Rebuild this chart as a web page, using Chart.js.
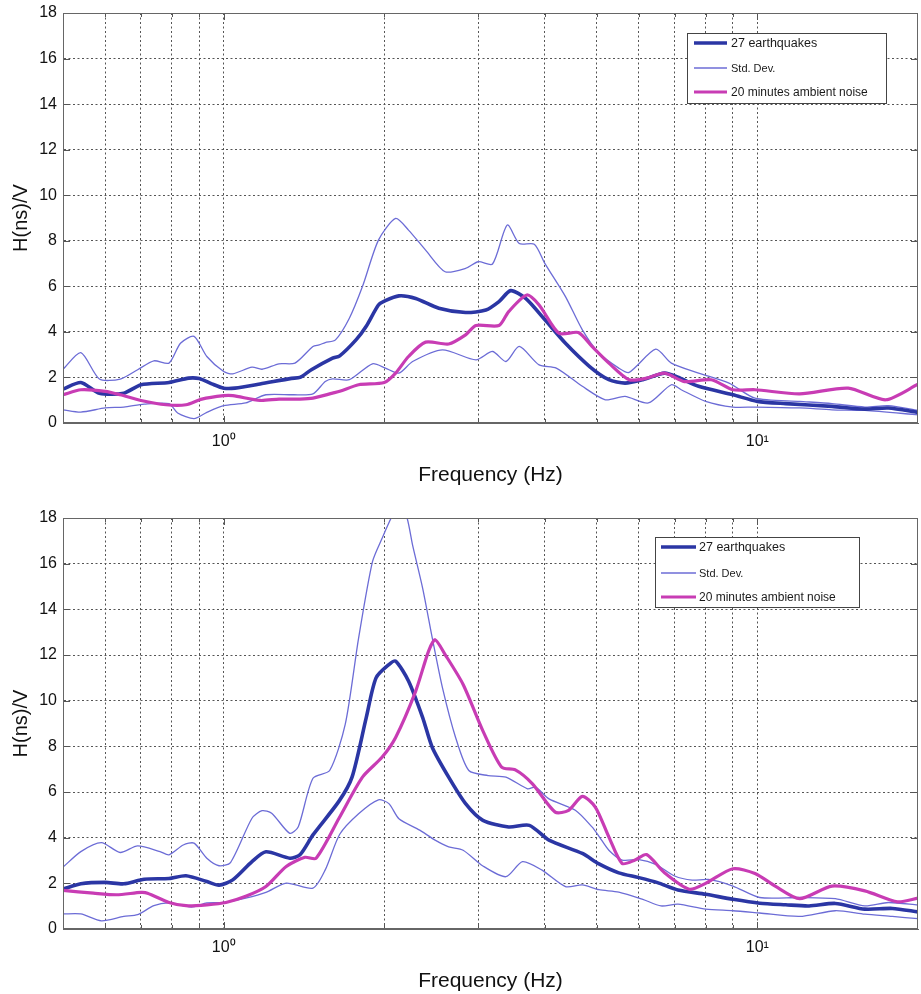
<!DOCTYPE html>
<html><head><meta charset="utf-8">
<script src="https://cdn.jsdelivr.net/npm/chart.js@4/dist/chart.umd.min.js"></script>
<style>
html,body{margin:0;padding:0;background:#fff;}
body{width:921px;height:994px;position:relative;overflow:hidden;}
canvas{position:absolute;left:0;display:block;}
</style></head><body>
<canvas id="c1" width="921" height="497" style="top:0"></canvas>
<canvas id="c2" width="921" height="497" style="top:497px"></canvas>
<script>
// ---------- axes ----------
const X_MIN = 0.5, X_MAX = 20;
const X_TICKS = [0.5,0.6,0.7,0.8,0.9,1,2,3,4,5,6,7,8,9,10,20];
const X_LABELS = {1:'10⁰', 10:'10¹'};
const Y_TICKS = [0,2,4,6,8,10,12,14,16,18];
const X_TITLE = 'Frequency (Hz)';
const Y_TITLE = 'H(ns)/V';
const LBL_EQ = '27 earthquakes';
const LBL_SD = 'Std. Dev.';
const LBL_AN = '20 minutes ambient noise';

// ---------- top panel data ----------
const TOP_EQ_F = [0.5,0.54,0.585,0.65,0.7,0.79,0.86,0.9,0.95,1.0,1.05,1.17,1.34,1.39,1.46,1.6,1.65,1.77,1.85,1.95,2.0,2.13,2.29,2.53,2.84,3.1,3.28,3.45,3.68,4.0,4.37,4.85,5.27,5.65,6.1,6.7,7.1,7.76,9.0,10,11.3,13.8,15.9,17.6,20];
const TOP_EQ_V = [1.49,1.78,1.31,1.31,1.68,1.78,1.97,1.95,1.72,1.53,1.53,1.71,1.96,2.0,2.34,2.85,2.95,3.65,4.25,5.18,5.35,5.58,5.47,5.04,4.85,4.96,5.33,5.81,5.47,4.53,3.50,2.48,1.90,1.75,1.90,2.19,2.01,1.61,1.24,0.95,0.85,0.73,0.61,0.66,0.47];

const TOP_AN_F = [0.5,0.54,0.6,0.64,0.7,0.78,0.85,0.91,1.0,1.04,1.17,1.27,1.39,1.47,1.6,1.65,1.79,2.0,2.1,2.22,2.39,2.64,2.84,2.97,3.28,3.42,3.7,3.9,4.25,4.62,4.9,5.27,5.75,6.2,6.7,7.3,8.2,9.0,9.9,12,14.8,17.4,20];
const TOP_AN_V = [1.24,1.46,1.39,1.24,0.99,0.80,0.80,1.05,1.20,1.20,0.99,1.05,1.05,1.09,1.31,1.39,1.68,1.78,2.19,2.92,3.55,3.47,3.87,4.28,4.28,4.89,5.62,5.18,3.94,3.97,3.36,2.63,1.90,1.97,2.19,1.82,1.90,1.46,1.46,1.28,1.53,1.02,1.70];

const TOP_SDU_F = [0.5,0.54,0.585,0.64,0.69,0.74,0.79,0.83,0.88,0.93,1.0,1.04,1.13,1.18,1.27,1.36,1.47,1.51,1.55,1.62,1.72,1.82,1.95,2.1,2.22,2.39,2.6,2.84,3.0,3.19,3.4,3.58,3.82,4.0,4.37,4.7,5.05,5.5,5.75,6.45,6.9,7.76,8.85,9.9,12,13.8,15.9,17.6,20];
const TOP_SDU_V = [2.36,3.09,1.93,1.93,2.34,2.73,2.63,3.50,3.80,2.92,2.26,2.16,2.45,2.36,2.60,2.63,3.36,3.43,3.53,3.65,4.6,5.99,8.03,8.98,8.47,7.59,6.64,6.79,7.08,6.98,8.69,7.88,7.85,7.0,5.55,4.09,3.07,2.41,2.22,3.24,2.63,2.19,1.75,1.09,0.95,0.85,0.70,0.76,0.56];

const TOP_SDL_F = [0.5,0.54,0.6,0.65,0.71,0.79,0.82,0.88,0.93,1.0,1.1,1.2,1.35,1.47,1.55,1.6,1.72,1.9,2.01,2.13,2.26,2.57,2.97,3.19,3.38,3.58,3.9,4.2,4.7,5.19,5.65,6.25,6.9,7.2,8.0,9.0,9.9,12,13.8,15.9,20];
const TOP_SDL_V = [0.58,0.48,0.66,0.70,0.83,0.85,0.44,0.19,0.47,0.76,0.88,1.24,1.24,1.28,1.82,1.94,1.90,2.60,2.41,2.19,2.70,3.21,2.77,3.14,2.70,3.36,2.55,2.41,1.61,1.02,1.17,0.88,1.68,1.46,0.95,0.70,0.70,0.66,0.58,0.55,0.36];

// ---------- bottom panel data ----------
const BOT_EQ_F = [0.5,0.54,0.6,0.65,0.71,0.79,0.85,0.93,0.98,1.04,1.13,1.2,1.33,1.39,1.47,1.645,1.74,1.85,1.93,2.04,2.1,2.22,2.36,2.46,2.64,2.84,3.06,3.42,3.74,4.07,4.7,5.05,5.5,6.0,6.5,7.1,8.0,9.0,10.1,11.3,12.5,14,15.9,17.9,20];
const BOT_EQ_V = [1.75,1.98,2.04,1.98,2.18,2.21,2.33,2.08,1.92,2.15,2.95,3.38,3.10,3.25,4.12,5.6,6.65,9.26,11.0,11.58,11.73,10.86,9.26,7.95,6.65,5.49,4.76,4.47,4.54,3.89,3.31,2.85,2.46,2.25,2.03,1.71,1.52,1.30,1.13,1.06,1.01,1.12,0.87,0.90,0.75];

const BOT_AN_F = [0.5,0.57,0.63,0.7,0.72,0.79,0.85,0.93,1.01,1.1,1.2,1.31,1.42,1.49,1.645,1.82,1.98,2.1,2.29,2.42,2.49,2.6,2.81,3.06,3.32,3.52,3.79,4.18,4.43,4.7,4.97,5.27,5.58,5.9,6.2,6.7,7.45,8.0,9.0,9.9,10.8,12,13.8,15.9,18.3,20];
const BOT_AN_V = [1.69,1.57,1.50,1.60,1.57,1.16,1.02,1.06,1.16,1.43,1.86,2.74,3.14,3.10,4.85,6.65,7.52,8.39,10.42,12.16,12.67,12.02,10.71,8.68,7.08,6.97,6.36,5.12,5.20,5.81,5.34,4.03,2.87,3.02,3.26,2.46,1.74,2.0,2.64,2.43,1.88,1.33,1.88,1.67,1.19,1.35];

const BOT_SDU_F = [0.5,0.54,0.59,0.64,0.69,0.76,0.79,0.84,0.88,0.93,0.98,1.03,1.13,1.18,1.23,1.33,1.38,1.47,1.58,1.69,1.79,1.9,1.98,2.07,2.13,2.2,2.26,2.36,2.46,2.57,2.72,2.88,3.13,3.38,3.71,3.84,4.07,4.56,4.9,5.05,5.27,5.58,6.0,6.45,7.0,7.55,8.1,9.0,10.1,12,14,15.9,17.6,20];
const BOT_SDU_V = [2.71,3.39,3.78,3.35,3.64,3.39,3.25,3.68,3.76,3.10,2.77,2.91,4.85,5.18,5.07,4.19,4.48,6.6,6.94,8.97,12.74,16.08,17.1,18.1,18.5,18.1,16.8,14.92,12.74,10.57,8.39,6.94,6.72,6.65,6.14,6.21,5.70,5.20,4.47,4.06,3.45,3.02,3.04,2.83,2.32,2.14,2.17,1.88,1.38,1.38,1.33,1.01,1.16,1.05];

const BOT_SDL_F = [0.5,0.54,0.59,0.65,0.69,0.74,0.79,0.87,0.93,1.0,1.1,1.2,1.31,1.47,1.55,1.65,1.79,1.95,2.04,2.13,2.33,2.49,2.64,2.81,3.06,3.38,3.63,3.95,4.37,4.7,5.05,5.5,6.1,6.6,7.1,8.0,9.0,10.1,12,14,15.9,17.9,20];
const BOT_SDL_V = [0.66,0.66,0.36,0.55,0.63,1.02,1.14,0.96,1.14,1.16,1.35,1.60,2.01,1.79,2.59,4.15,5.05,5.66,5.49,4.83,4.33,3.89,3.60,3.45,2.76,2.29,2.95,2.58,1.86,1.93,1.72,1.62,1.30,1.01,1.09,0.87,0.80,0.70,0.55,0.80,0.65,0.55,0.45];

// ---------- styling ----------
const FONT = "'Liberation Sans', Arial, Helvetica, sans-serif";
Chart.defaults.font.family = FONT;
Chart.defaults.color = '#111';
const C_EQ = '#2B36A4', C_SD = '#6C6CD6', C_AN = '#C83CB4';
const GRID = '#555', CLEAR = 'rgba(0,0,0,0)';

const pts = (f, v) => f.map((x, i) => ({x, y: v[i]}));

function line(label, f, v, color, width) {
  return {label, data: pts(f, v), borderColor: color, borderWidth: width,
    pointRadius: 0, pointHoverRadius: 0, fill: false, tension: 0.25,
    borderJoinStyle: 'round', borderCapStyle: 'round', clip: 0};
}

const framePlugin = {
  id: 'frame',
  afterDatasetsDraw(chart) {
    const {ctx, chartArea: a, scales: {x, y}} = chart;
    ctx.save();
    ctx.strokeStyle = '#555'; ctx.lineWidth = 1;
    ctx.beginPath();
    X_TICKS.forEach(v => {
      if (v <= X_MIN || v >= X_MAX) return;
      const px = Math.round(x.getPixelForValue(v)) + 0.5;
      const L = X_LABELS[v] ? 7 : 4;
      ctx.moveTo(px, a.bottom); ctx.lineTo(px, a.bottom - L);
      ctx.moveTo(px, a.top); ctx.lineTo(px, a.top + L);
    });
    Y_TICKS.forEach(v => {
      if (v <= 0 || v >= 18) return;
      const py = Math.round(y.getPixelForValue(v)) + 0.5;
      ctx.moveTo(a.left, py); ctx.lineTo(a.left + 7, py);
      ctx.moveTo(a.right, py); ctx.lineTo(a.right - 7, py);
    });
    ctx.stroke();
    ctx.strokeStyle = '#666';
    ctx.strokeRect(Math.round(a.left) + 0.5, Math.round(a.top) + 0.5, Math.round(a.width) - 1, Math.round(a.height) - 1);
    ctx.restore();
  }
};

function makeLegend(cfg) {
  return {
    id: 'boxLegend',
    afterDraw(chart) {
      const ctx = chart.ctx;
      ctx.save();
      ctx.fillStyle = '#fff';
      ctx.fillRect(cfg.x, cfg.y, cfg.w, cfg.h);
      ctx.strokeStyle = '#444'; ctx.lineWidth = 1;
      ctx.strokeRect(cfg.x + 0.5, cfg.y + 0.5, cfg.w, cfg.h);
      cfg.items.forEach((it, i) => {
        const ds = chart.data.datasets[it.ds];
        const yy = cfg.y + cfg.rows[i];
        ctx.strokeStyle = ds.borderColor; ctx.lineWidth = ds.borderWidth;
        ctx.lineCap = 'butt';
        ctx.beginPath(); ctx.moveTo(cfg.x + cfg.l0, yy); ctx.lineTo(cfg.x + cfg.l1, yy); ctx.stroke();
        ctx.fillStyle = '#1a1a1a';
        ctx.font = it.size + 'px ' + FONT;
        ctx.textBaseline = 'middle'; ctx.textAlign = 'left';
        ctx.fillText(ds.label, cfg.x + cfg.tx, yy + 0.5);
      });
      ctx.restore();
    }
  };
}

function build(id, d, geo) {
  const datasets = [
    line(LBL_AN, d.anF, d.anV, C_AN, 3.2),
    line(LBL_EQ, d.eqF, d.eqV, C_EQ, 3.6),
    line(LBL_SD, d.suF, d.suV, C_SD, 1.3),
    line(LBL_SD, d.slF, d.slV, C_SD, 1.3)
  ];
  const legendItems = [{ds: 1, size: 12.5}, {ds: 2, size: 11}, {ds: 0, size: 12}];
  return new Chart(document.getElementById(id), {
    type: 'line',
    data: {datasets},
    options: {
      responsive: false, animation: false, devicePixelRatio: 1,
      layout: {padding: {top: geo.padTop, right: 3, left: 0, bottom: 0}},
      plugins: {legend: {display: false}, tooltip: {enabled: false}},
      scales: {
        x: {
          type: 'logarithmic', min: X_MIN, max: X_MAX,
          afterBuildTicks: s => { s.ticks = X_TICKS.map(v => ({value: v})); },
          afterFit: s => { s.height = geo.xh; },
          ticks: {autoSkip: false, maxRotation: 0, minRotation: 0, padding: 1,
            callback: v => X_LABELS[v] || '', font: {size: 16}, color: '#111'},
          grid: {color: c => (c.tick && (c.tick.value <= X_MIN || c.tick.value >= X_MAX)) ? CLEAR : GRID,
            lineWidth: 1, drawTicks: true, tickLength: 8, tickColor: CLEAR},
          border: {display: true, color: '#666', width: 1, dash: [2, 2.5]},
          title: {display: true, text: X_TITLE, font: {size: 21}, color: '#111',
            padding: {top: 0, bottom: geo.xTitlePad}}
        },
        y: {
          min: 0, max: 18,
          afterBuildTicks: s => { s.ticks = Y_TICKS.map(v => ({value: v})); },
          afterFit: s => { s.width = 63; },
          ticks: {padding: 3, font: {size: 16}, color: '#111'},
          grid: {color: c => (c.tick && (c.tick.value <= 0 || c.tick.value >= 18)) ? CLEAR : GRID,
            lineWidth: 1, drawTicks: true, tickLength: 3, tickColor: CLEAR},
          border: {display: true, color: '#666', width: 1, dash: [2, 2.5]},
          title: {display: true, text: Y_TITLE, font: {size: 20}, color: '#111',
            padding: {top: 9, bottom: 0}}
        }
      }
    },
    plugins: [framePlugin, makeLegend(Object.assign({items: legendItems}, geo.legend))]
  });
}

build('c1', {eqF: TOP_EQ_F, eqV: TOP_EQ_V, anF: TOP_AN_F, anV: TOP_AN_V,
             suF: TOP_SDU_F, suV: TOP_SDU_V, slF: TOP_SDL_F, slV: TOP_SDL_V},
  {padTop: 13, xh: 74, xTitlePad: 9,
   legend: {x: 687, y: 33, w: 199, h: 70, rows: [10, 35, 59], l0: 7, l1: 40, tx: 44}});

build('c2', {eqF: BOT_EQ_F, eqV: BOT_EQ_V, anF: BOT_AN_F, anV: BOT_AN_V,
             suF: BOT_SDU_F, suV: BOT_SDU_V, slF: BOT_SDL_F, slV: BOT_SDL_V},
  {padTop: 21, xh: 65, xTitlePad: 0,
   legend: {x: 655, y: 40, w: 204, h: 70, rows: [10, 36, 60], l0: 6, l1: 41, tx: 44}});
</script>
</body></html>
